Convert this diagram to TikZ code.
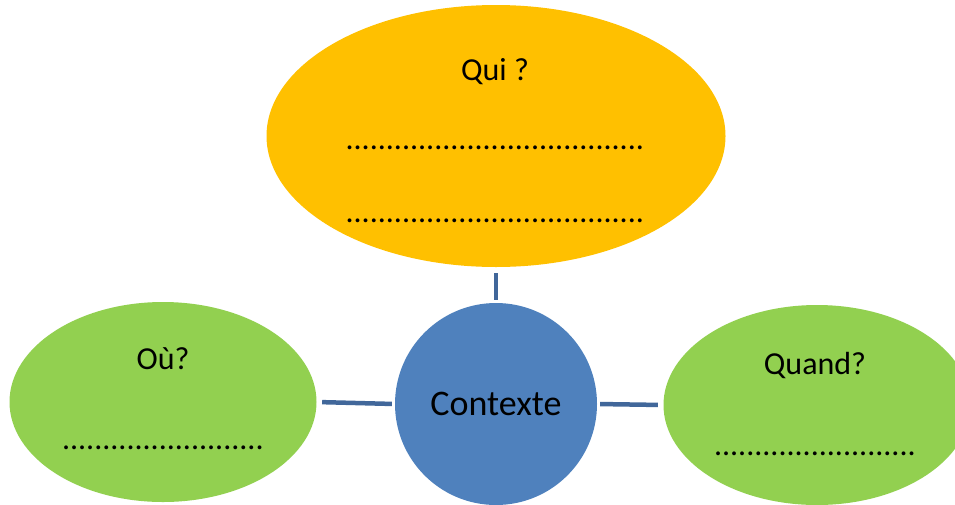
\documentclass[tikz,border=0pt]{standalone}
\usepackage{fontspec}
\setmainfont{Carlito}
\usetikzlibrary{shapes.geometric}

\definecolor{quiyellow}{HTML}{FFC000}
\definecolor{leafgreen}{HTML}{92D050}
\definecolor{ctxblue}{HTML}{4F81BD}
\definecolor{linkblue}{HTML}{41679A}

\begin{document}
\begin{tikzpicture}[x = 1pt, y = -1pt,
        bubble/.style = {ellipse, inner sep = 0pt},
        word/.style = {anchor = base, inner sep = 0pt, font = \fontsize{32}{38}\selectfont},
        link/.style = {draw = linkblue, line width = 4.5pt, shorten < = 3pt, shorten > = 5.5pt}]
        \useasboundingbox (0,0) rectangle (955,504);
        \clip (0,0) rectangle (955,504);
        
        \node[bubble, fill = quiyellow, minimum width = 459pt, minimum height = 262pt] (qui) at (496,136) {};
        \node[bubble, fill = leafgreen, minimum width = 307pt, minimum height = 200pt] (ou) at (163,402) {};
        \node[bubble, fill = leafgreen, minimum width = 307pt, minimum height = 200pt] (quand) at (817,405) {};
        \node[circle, fill = ctxblue, inner sep = 0pt, minimum size = 202pt,
              font = \fontsize{36}{43}\selectfont] (ctx) at (496,404) {Contexte};
        
        \draw[link] (ctx.north) -- (qui.south);
        \draw[link] (ctx.west) -- (ou.east);
        \draw[link] (ctx.east) -- (quand.west);
        
        \node[word] (quiT) at (495,80) {Qui ?};
        \node[word] (quiA) at (495,149) {.....................................};
        \node[word] (quiB) at (495,222) {.....................................};
        
        \node[word] (ouT) at (163,369) {Où?};
        \node[word] (ouA) at (163,449) {.........................};
        
        \node[word] (quandT) at (815,374) {Quand?};
        \node[word] (quandA) at (815,455) {.........................};
    \end{tikzpicture}
\end{document}
